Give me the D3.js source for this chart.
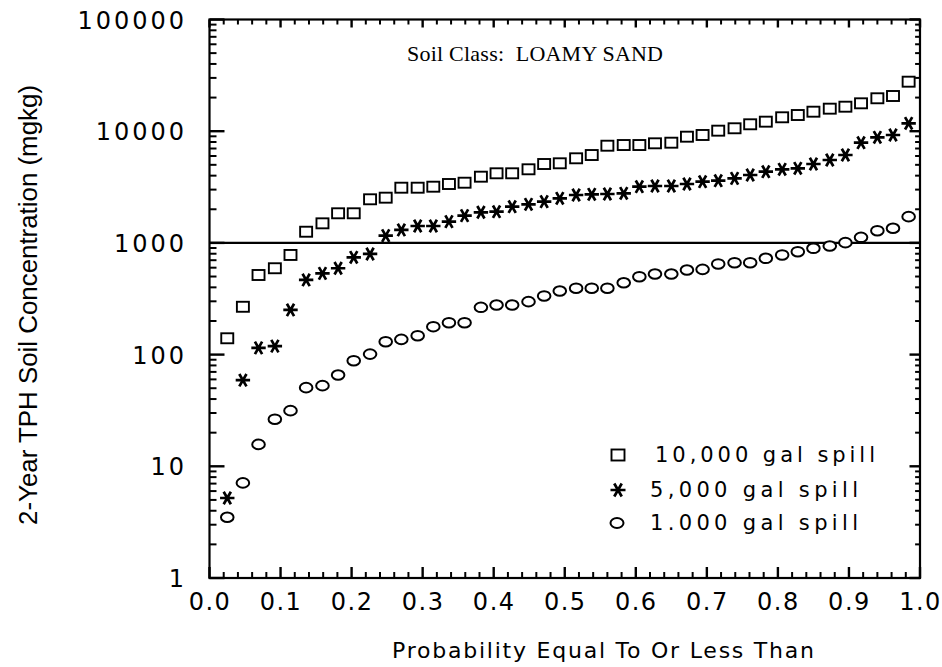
<!DOCTYPE html>
<html>
<head>
<meta charset="utf-8">
<script src="https://cdn.jsdelivr.net/npm/d3@7"></script>
<style>
  html, body { margin: 0; padding: 0; background: #fff; }
  svg { display: block; }
</style>
</head>
<body>
<svg id="chart" width="942" height="667"></svg>
<script>
// ---- data ----
const probability = [0.025, 0.047, 0.069, 0.092, 0.114, 0.136, 0.159, 0.181, 0.203, 0.226,
  0.248, 0.270, 0.293, 0.315, 0.337, 0.359, 0.382, 0.404, 0.426, 0.449,
  0.471, 0.493, 0.516, 0.538, 0.560, 0.583, 0.605, 0.627, 0.650, 0.672,
  0.694, 0.716, 0.739, 0.761, 0.783, 0.806, 0.828, 0.850, 0.873, 0.895,
  0.917, 0.940, 0.962, 0.984];
const spill10000 = [140, 268, 516, 593, 780, 1259, 1497, 1841, 1841, 2457,
  2540, 3120, 3120, 3185, 3367, 3458, 3915, 4199, 4199, 4560,
  5085, 5160, 5720, 6120, 7415, 7520, 7520, 7790, 7890, 8930,
  9250, 10110, 10620, 11530, 12170, 13320, 13960, 14950, 15910, 16570,
  17770, 19710, 20660, 27750];
const spill5000 = [5.2, 59, 115, 119, 251, 466, 534, 593, 743, 796,
  1161, 1306, 1417, 1417, 1549, 1753, 1880, 1903, 2109, 2216,
  2339, 2508, 2685, 2724, 2740, 2780, 3186, 3230, 3230, 3367,
  3530, 3605, 3786, 4055, 4339, 4560, 4655, 5086, 5525, 6120,
  7890, 8820, 9250, 11770];
const spill1000 = [3.5, 7.1, 15.7, 26.4, 31.5, 50.6, 52.7, 65.7, 88.2, 101,
  130.5, 137, 147.6, 177.8, 193, 193, 265, 278, 278, 298,
  335, 371, 393, 393, 393, 440, 498, 527, 527, 572,
  580, 648, 665, 665, 728, 780, 834, 895, 938, 1005,
  1122, 1286, 1352, 1718];
const xTickValues = [0, 0.1, 0.2, 0.3, 0.4, 0.5, 0.6, 0.7, 0.8, 0.9, 1.0];
const yTickValues = [1, 10, 100, 1000, 10000, 100000];
const referenceLevel = 1000;
const legendLabels = ["10,000 gal spill", "5,000 gal spill", "1.000 gal spill"];
const plotTitle = "Soil Class:  LOAMY SAND";
const xTitle = "Probability Equal To Or Less Than";
const yTitle = "2-Year TPH Soil Concentration (mgkg)";

// ---- layout ----
const svg = d3.select("#chart");
const L = 209.5, R = 920, T = 19.5, B = 578;
const x = d3.scaleLinear().domain([0, 1]).range([L, R]);
const y = d3.scaleLog().domain([1, 100000]).range([B, T]);

const tickFont = "'DejaVu Sans', sans-serif";

// minor tick values
const xMinor = d3.range(0, 1.0001, 0.02).filter(v => Math.abs(v * 10 - Math.round(v * 10)) > 1e-6);
const yMinor = [];
[1, 10, 100, 1000, 10000].forEach(d => { for (let k = 2; k <= 9; k++) yMinor.push(d * k); });

// tick labels via d3 axes
svg.append("g").attr("transform", `translate(0,${B})`)
  .call(d3.axisBottom(x).tickValues(xTickValues).tickSize(0).tickFormat(d3.format(".1f")))
  .call(g => g.select(".domain").remove())
  .call(g => g.selectAll("text").attr("font-family", tickFont).attr("font-size", 24)
    .attr("letter-spacing", 1.5).attr("fill", "#000").attr("dy", "0.72em").attr("y", 15));
svg.append("g")
  .call(d3.axisLeft(y).tickValues(yTickValues).tickSize(0).tickFormat(d3.format("d")))
  .call(g => g.select(".domain").remove())
  .call(g => g.selectAll("text").attr("font-family", tickFont).attr("font-size", 24)
    .attr("letter-spacing", 3).attr("fill", "#000").attr("x", 187).attr("dy", "0.36em"));

// tick marks (inward) on all four sides
const gT = svg.append("g").attr("stroke", "#000");
function hTicks(vals, len, w) {
  vals.forEach(v => {
    const yy = y(v);
    gT.append("line").attr("x1", L).attr("x2", L + len).attr("y1", yy).attr("y2", yy).attr("stroke-width", w);
    gT.append("line").attr("x1", R).attr("x2", R - len * 0.7).attr("y1", yy).attr("y2", yy).attr("stroke-width", w);
  });
}
function vTicks(vals, lenB, lenT, w) {
  vals.forEach(v => {
    const xx = x(v);
    gT.append("line").attr("x1", xx).attr("x2", xx).attr("y1", B).attr("y2", B - lenB).attr("stroke-width", w);
    gT.append("line").attr("x1", xx).attr("x2", xx).attr("y1", T).attr("y2", T + lenT).attr("stroke-width", w);
  });
}
hTicks(yTickValues, 15, 2.4);
hTicks(yMinor, 7, 2);
vTicks(xTickValues, 11, 8, 2.4);
vTicks(xMinor, 6, 5, 2);

// frame
svg.append("rect").attr("x", L).attr("y", T).attr("width", R - L).attr("height", B - T)
  .attr("fill", "none").attr("stroke", "#000").attr("stroke-width", 2.2);

// reference line at 1000
svg.append("line").attr("x1", L).attr("x2", R).attr("y1", y(referenceLevel)).attr("y2", y(referenceLevel))
  .attr("stroke", "#000").attr("stroke-width", 2.2);

// marker drawers
function drawSquare(g, cx, cy, w, h) {
  g.append("rect").attr("x", cx - w / 2).attr("y", cy - h / 2).attr("width", w).attr("height", h)
    .attr("fill", "#fff").attr("stroke", "#000").attr("stroke-width", 1.9);
}
function drawStar(g, cx, cy, r) {
  const p = d3.path();
  for (let a of [0, 60, 120]) {
    const rad = a * Math.PI / 180;
    p.moveTo(cx - r * Math.cos(rad), cy - r * Math.sin(rad));
    p.lineTo(cx + r * Math.cos(rad), cy + r * Math.sin(rad));
  }
  g.append("path").attr("d", p.toString()).attr("stroke", "#000").attr("stroke-width", 2.7).attr("fill", "none");
}
function drawCircle(g, cx, cy, rx, ry) {
  g.append("ellipse").attr("cx", cx).attr("cy", cy).attr("rx", rx).attr("ry", ry)
    .attr("fill", "#fff").attr("stroke", "#000").attr("stroke-width", 2);
}

const gPts = svg.append("g");
probability.forEach((p, i) => drawSquare(gPts, x(p), y(spill10000[i]), 12, 10));
probability.forEach((p, i) => drawStar(gPts, x(p), y(spill5000[i]), 7.2));
probability.forEach((p, i) => drawCircle(gPts, x(p), y(spill1000[i]), 6.3, 4.8));

// title inside plot
svg.append("text").attr("x", 407).attr("y", 61).attr("font-family", "'Liberation Serif', 'Times New Roman', serif")
  .attr("font-size", 22).attr("textLength", 256).attr("lengthAdjust", "spacing")
  .style("white-space", "pre").attr("fill", "#000").text(plotTitle);

// legend
const legendRows = [
  { label: legendLabels[0], sy: 455, ty: 462, tx: 655, tl: 220, kind: "square" },
  { label: legendLabels[1], sy: 490, ty: 497, tx: 650, tl: 208, kind: "star" },
  { label: legendLabels[2], sy: 523, ty: 530, tx: 650, tl: 208, kind: "circle" }
];
const gLeg = svg.append("g");
legendRows.forEach(r => {
  if (r.kind === "square") drawSquare(gLeg, 618, r.sy, 13, 11);
  if (r.kind === "star") drawStar(gLeg, 618, r.sy, 7.5);
  if (r.kind === "circle") drawCircle(gLeg, 617, r.sy, 6.5, 5);
  gLeg.append("text").attr("x", r.tx).attr("y", r.ty).attr("font-family", tickFont)
    .attr("font-size", 21).attr("textLength", r.tl).attr("lengthAdjust", "spacing")
    .attr("fill", "#000").text(r.label);
});

// axis titles
svg.append("text").attr("x", 603).attr("y", 658).attr("text-anchor", "middle")
  .attr("font-family", tickFont).attr("font-size", 22).attr("textLength", 422).attr("lengthAdjust", "spacing")
  .attr("fill", "#000").text(xTitle);
svg.append("text").attr("transform", "translate(37,305) rotate(-90)").attr("text-anchor", "middle")
  .attr("font-family", "'Liberation Sans Narrow', 'Liberation Sans', Arial, sans-serif")
  .attr("font-size", 25).attr("textLength", 440).attr("lengthAdjust", "spacingAndGlyphs")
  .attr("fill", "#000").text(yTitle);
</script>
</body>
</html>
